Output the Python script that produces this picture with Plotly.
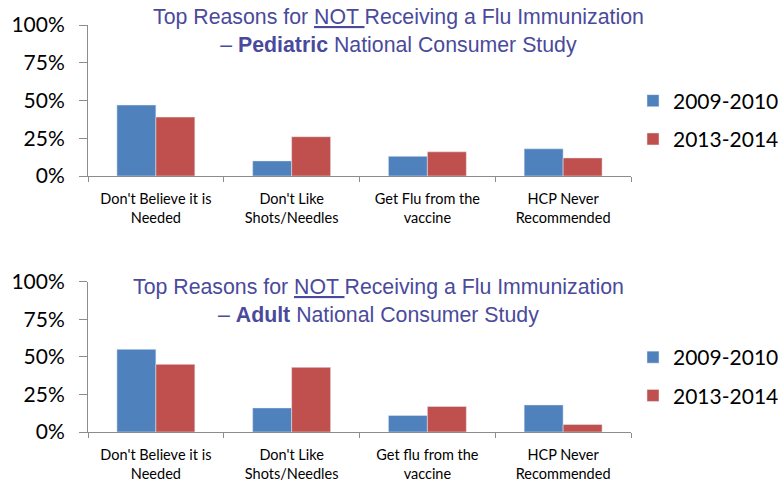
import plotly.graph_objects as go

categories_ped = ["Don't Believe it is<br>Needed", "Don't Like<br>Shots/Needles",
                  "Get Flu from the<br>vaccine", "HCP Never<br>Recommended"]
categories_adult = ["Don't Believe it is<br>Needed", "Don't Like<br>Shots/Needles",
                    "Get flu from the<br>vaccine", "HCP Never<br>Recommended"]
series_names = ["2009-2010", "2013-2014"]
ped_2009 = [47, 10, 13, 18]
ped_2013 = [39, 26, 16, 12]
adult_2009 = [55, 16, 11, 18]
adult_2013 = [45, 43, 17, 5]
tick_vals = [0, 25, 50, 75, 100]
tick_text = ["0%", "25%", "50%", "75%", "100%"]

title_ped = "Top Reasons for <u>NOT </u>Receiving a Flu Immunization<br>– <b>Pediatric</b> National Consumer Study"
title_adult = "Top Reasons for <u>NOT </u>Receiving a Flu Immunization<br>– <b>Adult</b> National Consumer Study"

BLUE = "#4F81BD"
RED = "#C0504D"
TITLE_COLOR = "#4A4A9C"
AXIS_COLOR = "#8C8C8C"
TICK_FONT = "Lato, 'Open Sans', sans-serif"
TITLE_FONT = "Liberation Sans, Arial, sans-serif"

fig = go.Figure()
fig.add_trace(go.Bar(x=categories_ped, y=ped_2009, name=series_names[0], marker_color=BLUE,
                     xaxis="x", yaxis="y", legend="legend", legendgroup="a"))
fig.add_trace(go.Bar(x=categories_ped, y=ped_2013, name=series_names[1], marker_color=RED,
                     xaxis="x", yaxis="y", legend="legend", legendgroup="b"))
fig.add_trace(go.Bar(x=categories_adult, y=adult_2009, name=series_names[0], marker_color=BLUE,
                     xaxis="x2", yaxis="y2", legend="legend2", legendgroup="c"))
fig.add_trace(go.Bar(x=categories_adult, y=adult_2013, name=series_names[1], marker_color=RED,
                     xaxis="x2", yaxis="y2", legend="legend2", legendgroup="d"))

W, H = 784, 482
x0, x1 = 88 / W, 631 / W

xcommon = dict(showline=True, linecolor=AXIS_COLOR, linewidth=1, ticks="outside",
               tickson="boundaries", ticklen=5, tickcolor=AXIS_COLOR, showgrid=False,
               tickfont=dict(family=TICK_FONT, size=14.5, color="#000000"), fixedrange=True,
               domain=[x0, x1], automargin=False, ticklabelstandoff=10)
ycommon = dict(showline=True, linecolor=AXIS_COLOR, linewidth=1, ticks="outside", ticklen=8,
               tickcolor=AXIS_COLOR, showgrid=False, range=[0, 100], tickvals=tick_vals,
               ticktext=tick_text, tickfont=dict(family=TICK_FONT, size=21, color="#000000"),
               zeroline=False, ticklabelstandoff=10, automargin=False, fixedrange=True)

fig.update_layout(
    width=W, height=H,
    margin=dict(l=0, r=0, t=0, b=0, autoexpand=False),
    paper_bgcolor="white", plot_bgcolor="white",
    barmode="group", bargap=0.426, bargroupgap=0,
    xaxis=dict(**xcommon, anchor="y"),
    yaxis=dict(**ycommon, anchor="x", domain=[1 - 176 / H, 1 - 25 / H]),
    xaxis2=dict(**xcommon, anchor="y2"),
    yaxis2=dict(**ycommon, anchor="x2", domain=[1 - 432 / H, 1 - 281.7 / H]),
    legend=dict(x=1, y=1 - 80.5 / H, xanchor="right", yanchor="top",
                font=dict(family=TICK_FONT, size=21, color="#000000"),
                tracegroupgap=8, bgcolor="rgba(0,0,0,0)"),
    legend2=dict(x=1, y=1 - 337 / H, xanchor="right", yanchor="top",
                 font=dict(family=TICK_FONT, size=21, color="#000000"),
                 tracegroupgap=8, bgcolor="rgba(0,0,0,0)"),
    annotations=[
        dict(text=title_ped, x=398 / W, y=1 - 3 / H, xref="paper", yref="paper",
             xanchor="center", yanchor="top", showarrow=False, align="center",
             font=dict(family=TITLE_FONT, size=21.3, color=TITLE_COLOR)),
        dict(text=title_adult, x=378 / W, y=1 - 273 / H, xref="paper", yref="paper",
             xanchor="center", yanchor="top", showarrow=False, align="center",
             font=dict(family=TITLE_FONT, size=21.3, color=TITLE_COLOR)),
    ],
    showlegend=True,
)

fig.write_html("out.html", config={"displayModeBar": False},
               post_script="document.body.style.margin='0';")
